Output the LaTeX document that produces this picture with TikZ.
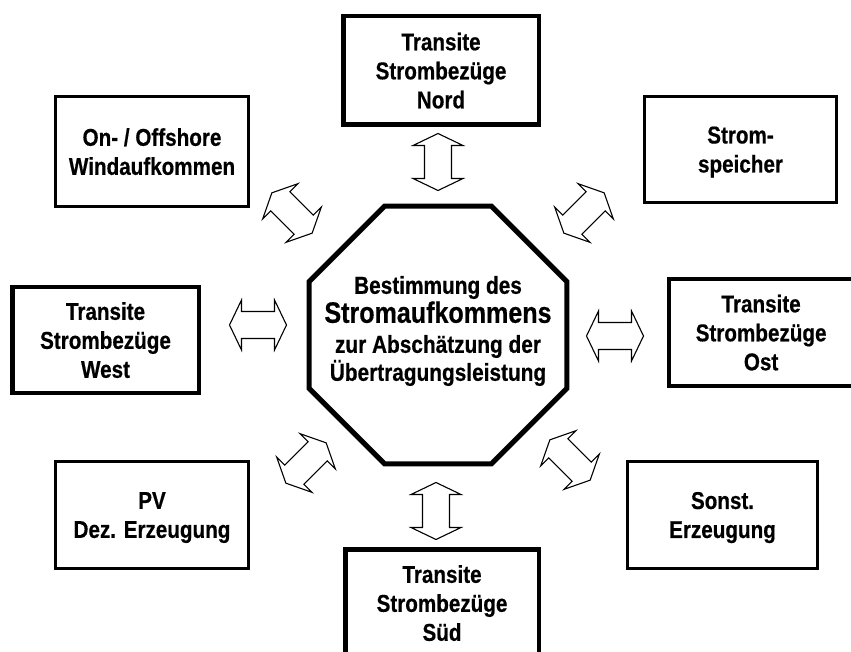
\documentclass[tikz,border=0pt]{standalone}
\usepackage{fontspec}
\newfontfamily\narrowsans{Liberation Sans}[FakeStretch=0.85, BoldFeatures={FakeBold=0.5}]
\usetikzlibrary{shapes.geometric}
\tikzset{
  blk/.style={draw, fill=white, align=center, inner sep=0pt, text depth=0pt,
    font=\narrowsans\bfseries\fontsize{24.3}{29}\selectfont},
  thinbox/.style={blk, line width=2.6pt},
  thickbox/.style={blk, line width=4.5pt},
  arrowline/.style={draw, fill=white, line width=1.1pt, line join=miter},
  dblarrow/.pic={
    \draw[arrowline] (-28.5,0) -- (-16.5,-25) -- (-16.5,-13.5) -- (16.5,-13.5)
      -- (16.5,-25) -- (28.5,0) -- (16.5,25) -- (16.5,13.5) -- (-16.5,13.5)
      -- (-16.5,25) -- cycle;
  }
}
\begin{document}
\begin{tikzpicture}[x=1pt,y=-1pt]
\useasboundingbox (0,0) rectangle (851,652);
\fill[white] (0,0) rectangle (851,652);
\clip (0,0) rectangle (851,652);

% central octagon
\node[draw, line width=5pt, regular polygon, regular polygon sides=8,
      minimum size=279pt, inner sep=0pt] (oct) at (438,335) {};
\node[align=center, inner sep=0pt,
      font=\narrowsans\bfseries\fontsize{24.5}{30}\selectfont] (octtext) at (438,331)
  {Bestimmung des\\[-1pt]{\fontsize{29.5}{30}\selectfont Stromaufkommens}\\zur Abschätzung der\\[-2pt]Übertragungsleistung};

% boxes
\node[thickbox, text depth=-12pt, minimum width=195.5pt, minimum height=108.5pt] (nord) at (441,70.5)
  {Transite\\Strombezüge\\Nord};
\node[thinbox, text depth=-4pt, minimum width=193.4pt, minimum height=110.4pt] (wind) at (152,151.5)
  {On- / Offshore\\Windaufkommen};
\node[thinbox, text depth=-14pt, minimum width=192.4pt, minimum height=106.4pt] (speicher) at (740.5,149.5)
  {Strom-\\speicher};
\node[thickbox, minimum width=186.5pt, minimum height=105.5pt] (west) at (105.5,340)
  {Transite\\Strombezüge\\West};
\node[thickbox, text depth=-10pt, minimum width=183.75pt, minimum height=106.5pt] (ost) at (761.1,332.5)
  {Transite\\Strombezüge\\Ost};
\node[thinbox, text depth=-8pt, minimum width=193.4pt, minimum height=107.4pt] (pv) at (152,515)
  {PV\\Dez. Erzeugung};
\node[thinbox, text depth=-4pt, minimum width=190.4pt, minimum height=107.4pt] (sonst) at (722.5,515)
  {Sonst.\\Erzeugung};
\node[thickbox, minimum width=193.5pt, minimum height=107.5pt] (sued) at (442,603)
  {Transite\\Strombezüge\\Süd};

% double block arrows
\pic[rotate=90] at (438,162) {dblarrow};
\pic[rotate=90] at (436,511) {dblarrow};
\pic at (258,325) {dblarrow};
\pic at (615,336) {dblarrow};
\pic[rotate=-45] at (292,213) {dblarrow};
\pic[rotate=45] at (584,213) {dblarrow};
\pic[rotate=45] at (306,463) {dblarrow};
\pic[rotate=-45] at (570,460) {dblarrow};
\end{tikzpicture}
\end{document}
